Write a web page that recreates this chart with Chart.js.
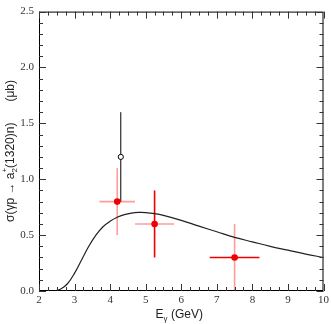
<!DOCTYPE html>
<html>
<head>
<meta charset="utf-8">
<script src="https://cdn.jsdelivr.net/npm/chart.js@4.4.1/dist/chart.umd.min.js"></script>
<style>
  html, body { margin: 0; padding: 0; background: #fff; }
  #wrap { width: 332px; height: 324px; }
</style>
</head>
<body>
<div id="wrap"><canvas id="xsec" width="332" height="324"></canvas></div>
<script>
// model curve
const curveE     = [2.4, 2.6, 2.8, 3.0, 3.2, 3.4, 3.6, 3.8, 4.0, 4.2, 4.4, 4.6, 4.8, 5.0, 5.25, 5.5, 6.0, 6.5, 7.0, 7.5, 8.0, 8.5, 9.0, 9.5, 10.0];
const curveSigma = [0.0, 0.015, 0.065, 0.16, 0.28, 0.40, 0.50, 0.575, 0.625, 0.66, 0.683, 0.697, 0.703, 0.702, 0.693, 0.677, 0.632, 0.58, 0.53, 0.48, 0.44, 0.40, 0.365, 0.33, 0.30];

// measured points (filled)
const dataE      = [4.2, 5.25, 7.5];
const dataSigma  = [0.8, 0.6, 0.3];
const dataELo    = [3.7, 4.7, 6.8];
const dataEHi    = [4.7, 5.8, 8.2];
const dataSigLo  = [0.5, 0.3, 0.0];
const dataSigHi  = [1.1, 0.9, 0.6];

// open point
const openE      = [4.3];
const openSigma  = [1.2];
const openSigLo  = [0.8];
const openSigHi  = [1.6];

const xTicks = [2, 3, 4, 5, 6, 7, 8, 9, 10];
const yTicks = [0.0, 0.5, 1.0, 1.5, 2.0, 2.5];

const PINK = '#ff9c9c';
const RED = '#f00000';
const xBarColor = [PINK, PINK, RED];
const yBarColor = [PINK, RED, PINK];

const serif = '"Liberation Serif", "Times New Roman", serif';
const sans = '"Liberation Sans", Arial, sans-serif';

const errorBars = {
  id: 'errorBars',
  beforeDatasetsDraw(chart) {
    const { ctx, scales: { x, y } } = chart;
    ctx.save();
    ctx.lineWidth = 1.6;
    dataE.forEach((e, i) => {
      ctx.strokeStyle = xBarColor[i];
      ctx.beginPath();
      ctx.moveTo(x.getPixelForValue(dataELo[i]), y.getPixelForValue(dataSigma[i]));
      ctx.lineTo(x.getPixelForValue(dataEHi[i]), y.getPixelForValue(dataSigma[i]));
      ctx.stroke();
      ctx.strokeStyle = yBarColor[i];
      ctx.beginPath();
      ctx.moveTo(x.getPixelForValue(e), y.getPixelForValue(dataSigLo[i]));
      ctx.lineTo(x.getPixelForValue(e), y.getPixelForValue(dataSigHi[i]));
      ctx.stroke();
    });
    ctx.strokeStyle = '#000';
    ctx.lineWidth = 1;
    openE.forEach((e, i) => {
      ctx.beginPath();
      ctx.moveTo(x.getPixelForValue(e), y.getPixelForValue(openSigLo[i]));
      ctx.lineTo(x.getPixelForValue(e), y.getPixelForValue(openSigHi[i]));
      ctx.stroke();
    });
    ctx.restore();
  }
};

// frame, inward ticks on all sides, axis titles
const frame = {
  id: 'frame',
  afterDraw(chart) {
    const { ctx, chartArea: a, scales: { x, y } } = chart;
    ctx.save();
    ctx.strokeStyle = '#000';
    ctx.lineWidth = 1;
    ctx.strokeRect(a.left + 0.5, a.top + 0.5, a.right - a.left - 1, a.bottom - a.top - 1);
    ctx.strokeStyle = '#333';
    for (let v = 2; v <= 10.001; v += 0.25) {
      const px = Math.round(x.getPixelForValue(v)) + 0.5;
      const len = Math.abs(v - Math.round(v)) < 1e-6 ? 7 : 4;
      ctx.beginPath();
      ctx.moveTo(px, a.bottom); ctx.lineTo(px, a.bottom - len);
      ctx.moveTo(px, a.top); ctx.lineTo(px, a.top + len);
      ctx.stroke();
    }
    for (let k = 0; k <= 25; k++) {
      const py = Math.round(y.getPixelForValue(k / 10)) + 0.5;
      const len = k % 5 === 0 ? 7 : 4;
      ctx.beginPath();
      ctx.moveTo(a.left, py); ctx.lineTo(a.left + len, py);
      ctx.moveTo(a.right, py); ctx.lineTo(a.right - len, py);
      ctx.stroke();
    }

    // x title: E_gamma (GeV)
    ctx.fillStyle = '#222';
    ctx.textBaseline = 'alphabetic';
    const f12 = '12px ' + sans, f8 = '8px ' + sans;
    ctx.font = f12; const wE = ctx.measureText('E').width;
    ctx.font = f8; const wg = ctx.measureText('γ').width;
    ctx.font = f12; const wR = ctx.measureText(' (GeV)').width;
    let cx = (a.left + a.right) / 2 - 2 - (wE + wg + wR) / 2;
    const by = 318;
    ctx.fillText('E', cx, by); cx += wE;
    ctx.font = f8; ctx.fillText('γ', cx, by + 3); cx += wg;
    ctx.font = f12; ctx.fillText(' (GeV)', cx, by);

    // y title, rotated
    ctx.translate(14, 222);
    ctx.rotate(-Math.PI / 2);
    let tx = 0;
    ctx.font = f12; ctx.fillText('σ(γp → a', tx, 0); tx += ctx.measureText('σ(γp → a').width;
    ctx.font = f8;
    ctx.fillText('2', tx, 3);
    ctx.fillText('+', tx, -7);
    tx += ctx.measureText('+').width;
    ctx.font = f12; ctx.fillText('(1320)n)', tx, 0);
    const wmu = ctx.measureText('(μb)').width;
    ctx.fillText('(μb)', 222 - 80 - wmu, 0);
    ctx.restore();
  }
};

new Chart(document.getElementById('xsec').getContext('2d'), {
  type: 'scatter',
  data: {
    datasets: [
      {
        label: 'model',
        data: curveE.map((e, i) => ({ x: e, y: curveSigma[i] })),
        showLine: true,
        borderColor: '#222',
        borderWidth: 1.2,
        pointRadius: 0,
        tension: 0.4
      },
      {
        label: 'data',
        data: dataE.map((e, i) => ({ x: e, y: dataSigma[i] })),
        pointRadius: 3.3,
        backgroundColor: RED,
        borderColor: RED,
        borderWidth: 0
      },
      {
        label: 'open',
        data: openE.map((e, i) => ({ x: e, y: openSigma[i] })),
        pointRadius: 2.6,
        backgroundColor: '#fff',
        borderColor: '#000',
        borderWidth: 1
      }
    ]
  },
  options: {
    responsive: false,
    animation: false,
    events: [],
    layout: { padding: { top: 5, right: 7, left: 0, bottom: 0 } },
    plugins: { legend: { display: false }, tooltip: { enabled: false } },
    scales: {
      x: {
        type: 'linear',
        min: 2, max: 10,
        afterFit(s) { s.height = 33; },
        afterBuildTicks(s) { s.ticks = xTicks.map(v => ({ value: v })); },
        grid: { display: false, drawTicks: false },
        border: { display: false },
        ticks: { padding: 3, color: '#333', font: { family: serif, size: 11 }, maxRotation: 0, callback: v => String(v) }
      },
      y: {
        type: 'linear',
        min: 0, max: 2.5,
        afterFit(s) { s.width = 39; },
        afterBuildTicks(s) { s.ticks = yTicks.map(v => ({ value: v })); },
        grid: { display: false, drawTicks: false },
        border: { display: false },
        ticks: { padding: 5, color: '#333', font: { family: serif, size: 11 }, callback: v => v.toFixed(1) }
      }
    }
  },
  plugins: [errorBars, frame]
});
</script>
</body>
</html>
